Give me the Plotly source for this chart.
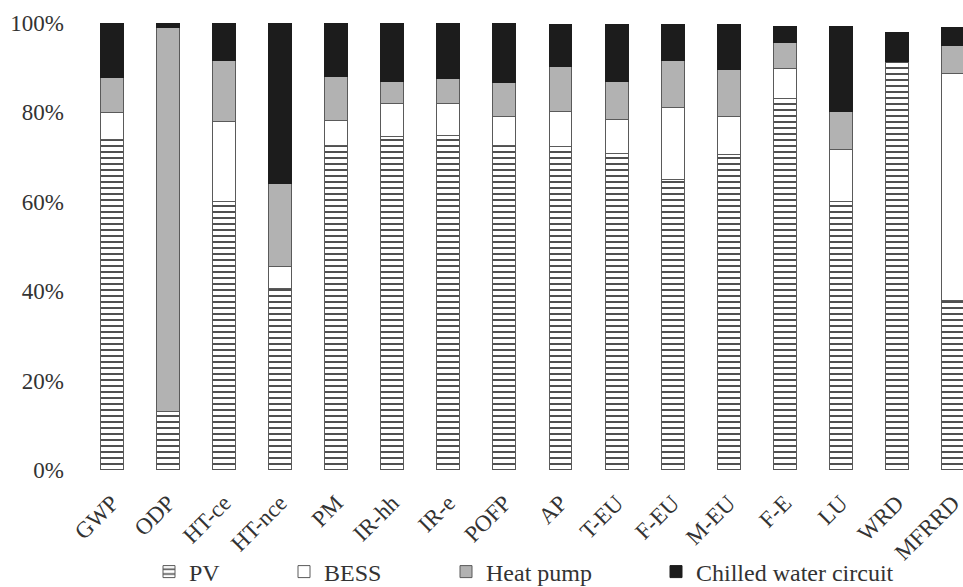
import plotly.graph_objects as go

categories = ["GWP", "ODP", "HT-ce", "HT-nce", "PM", "IR-hh", "IR-e", "POFP",
              "AP", "T-EU", "F-EU", "M-EU", "F-E", "LU", "WRD", "MFRRD"]
pv = [74.0, 13.0, 60.0, 40.7, 72.5, 74.7, 74.9, 72.7, 72.3, 70.7, 65.1, 70.5, 83.0, 60.0, 91.3, 38.0]
bess = [5.9, 0, 17.9, 4.9, 5.6, 7.4, 7.2, 6.3, 7.8, 7.8, 15.9, 8.5, 6.9, 11.6, 0, 50.6]
heat_pump = [8.0, 86.1, 13.8, 18.6, 10.0, 4.9, 5.4, 7.8, 10.1, 8.5, 10.7, 10.5, 5.8, 8.7, 0, 6.3]
chilled = [12.1, 0.9, 8.3, 35.8, 11.9, 13.0, 12.5, 13.0, 9.4, 12.6, 7.9, 10.1, 3.6, 19.0, 6.5, 4.2]
y_ticks = [0, 20, 40, 60, 80, 100]
y_tick_labels = ["0%", "20%", "40%", "60%", "80%", "100%"]

FONT = "Liberation Serif"
TXT = "#333333"
OUTLINE = dict(color="#5a5a5a", width=1)

fig = go.Figure()
fig.add_trace(go.Bar(
    x=categories, y=pv, name="PV", legend="legend", showlegend=True,
    marker=dict(color="white", line=OUTLINE,
                pattern=dict(shape="-", fgcolor="#3c3c3c", bgcolor="white",
                             size=6, solidity=0.3, fillmode="replace")),
))
fig.add_trace(go.Bar(
    x=categories, y=bess, name="BESS", legend="legend2", showlegend=True,
    marker=dict(color="white", line=OUTLINE),
))
fig.add_trace(go.Bar(
    x=categories, y=heat_pump, name="Heat pump", legend="legend3", showlegend=True,
    marker=dict(color="#b2b2b2", line=OUTLINE),
))
fig.add_trace(go.Bar(
    x=categories, y=chilled, name="Chilled water circuit", legend="legend4", showlegend=True,
    marker=dict(color="#1c1c1c", line=dict(color="#1c1c1c", width=1)),
))

# plot area: x from 84px to 963px, y from 23px to 470px
def lx(px):
    return (px - 84) / 879.0

leg_y = (470 - 572) / 447.0
legend_common = dict(orientation="h", yanchor="middle", y=leg_y, xanchor="left",
                     font=dict(family=FONT, size=24, color=TXT),
                     bgcolor="rgba(0,0,0,0)", borderwidth=0, itemwidth=30,
                     visible=True)

fig.update_layout(
    barmode="stack",
    bargap=0.59,
    showlegend=True,
    width=963, height=587,
    margin=dict(l=84, r=0, t=23, b=117, autoexpand=False),
    plot_bgcolor="white", paper_bgcolor="white",
    font=dict(family=FONT, size=22, color=TXT),
    legend=dict(x=lx(191 - 42), **legend_common),
    legend2=dict(x=lx(326 - 42), **legend_common),
    legend3=dict(x=lx(488 - 42), **legend_common),
    legend4=dict(x=lx(698 - 42), **legend_common),
    xaxis=dict(range=[-0.5, 15.18], tickangle=-45, showline=False, showgrid=False,
               ticks="", tickfont=dict(family=FONT, size=23, color=TXT),
               ticklabelstandoff=14, automargin=False),
    yaxis=dict(range=[0, 100], tickvals=y_ticks, ticktext=y_tick_labels,
               showgrid=False, showline=False, zeroline=False, ticks="",
               tickfont=dict(family=FONT, size=23, color=TXT),
               ticklabelstandoff=19, automargin=False),
)

fig.write_html("out.html")
